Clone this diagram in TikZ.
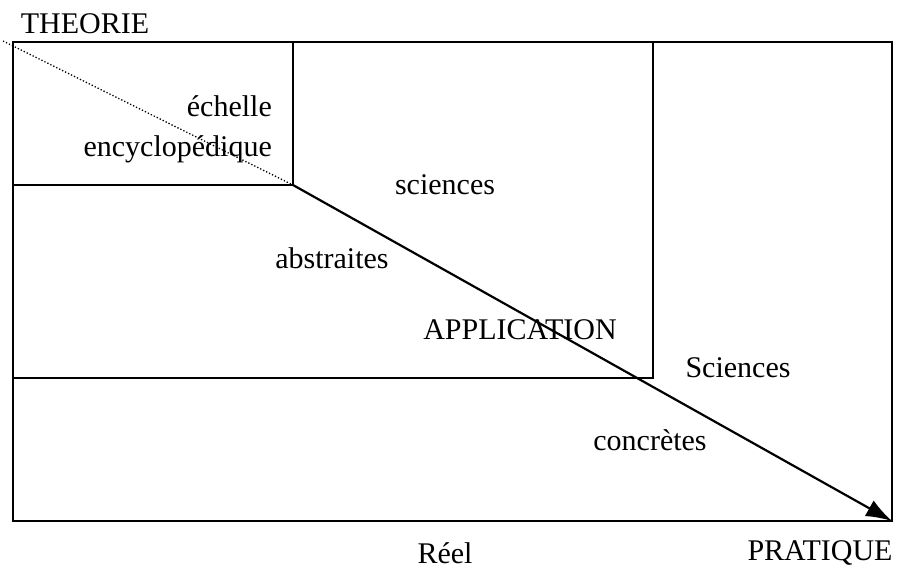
\documentclass[tikz,border=0pt]{standalone}
\usepackage{fontspec}
\setmainfont{Liberation Serif}
\usetikzlibrary{arrows.meta,positioning}

\begin{document}
\begin{tikzpicture}[x=1pt,y=-1pt,
  frame/.style={draw=black, line width=2pt},
  lbl/.style={font=\fontsize{30}{40}\selectfont, inner sep=0pt},
  axis/.style={line width=2.2pt, -{Latex[length=26pt,width=18pt]}}]
\useasboundingbox (0,0) rectangle (902,574);
% corners of the three boxes
\coordinate (topleft) at (13,42);
\coordinate (encyc) at (293,185);
\coordinate (abstr) at (653,378);
\coordinate (bottomright) at (892,521);
\coordinate (origin) at (3,41);
\draw[frame] (topleft) rectangle (bottomright);
\draw[frame] (topleft) rectangle (abstr);
\draw[frame] (topleft) rectangle (encyc);
% the two diagonals
\draw[dotted, line width=1.3pt] (origin) -- (encyc);
\draw[axis] (encyc) -- (bottomright);
% labels
\node[lbl] (theorie) at (85,24) {THEORIE};
\node[lbl, align=right, anchor=east] (echelle) at (272,129) {échelle\\encyclopédique};
\node[lbl] (sciabs) at (445,185) {sciences};
\node[lbl] (abstraites) at (332,258) {abstraites};
\node[lbl] (application) at (520,330) {APPLICATION};
\node[lbl] (scicon) at (738,368) {Sciences};
\node[lbl] (concretes) at (650,440) {concrètes};
\node[lbl] (reel) at (445,553) {Réel};
\node[lbl] (pratique) at (820,553) {PRATIQUE};
\end{tikzpicture}
\end{document}
